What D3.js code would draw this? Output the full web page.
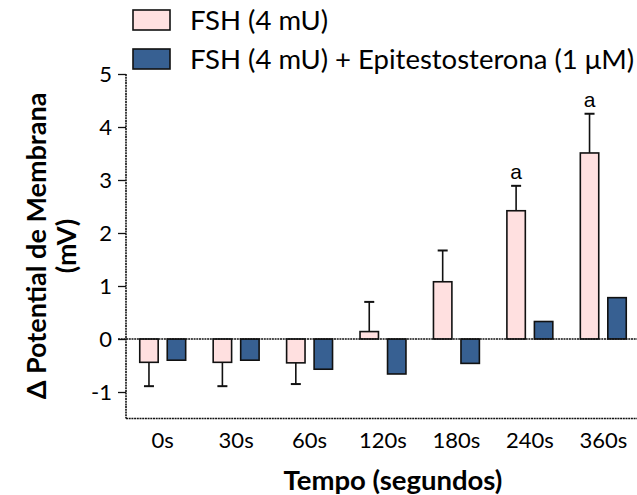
<!DOCTYPE html>
<html>
<head>
<meta charset="utf-8">
<script src="https://cdn.jsdelivr.net/npm/d3@7"></script>
<style>
  body { margin: 0; background: #fff; }
  svg { display: block; }
  text { font-family: Lato, "Open Sans", sans-serif; fill: #000; }
</style>
</head>
<body>
<svg id="chart" width="637" height="495"></svg>
<script>
// data
const categories = ['0s', '30s', '60s', '120s', '180s', '240s', '360s']
const seriesNames = ['FSH (4 mU)', 'FSH (4 mU) + Epitestosterona (1 \u03bcM)']
const fshValues = [-0.44, -0.44, -0.45, 0.14, 1.08, 2.42, 3.51]
const fshErrors = [0.45, 0.45, 0.40, 0.56, 0.59, 0.47, 0.74]
const epiValues = [-0.40, -0.40, -0.57, -0.66, -0.46, 0.33, 0.78]
const significance = ['', '', '', '', '', 'a', 'a']
const yTicks = [-1, 0, 1, 2, 3, 4, 5]

const colors = ['#ffe0e0', '#376092']

const svg = d3.select('#chart')

const x0 = d3.scaleBand()
    .domain(categories)
    .range([126, 640])
    .padding(0)
const x1 = d3.scaleBand()
    .domain([0, 1])
    .range([0, x0.bandwidth()])
    .paddingInner(0.33)
    .paddingOuter(0.5)
const y = d3.scaleLinear()
    .domain([-1.5, 5])
    .range([418.5, 74])

const rows = categories.map((c, i) => ({
    cat: c,
    bars: [
        { s: 0, v: fshValues[i], e: fshErrors[i], sig: significance[i] },
        { s: 1, v: epiValues[i], e: 0, sig: '' }
    ]
}))

// y axis
const yAxis = svg.append('g')
    .attr('transform', 'translate(126,0)')
    .call(d3.axisLeft(y).tickValues(yTicks).tickSize(8).tickPadding(6).tickFormat(d => String(d)))
yAxis.select('.domain').remove()
yAxis.selectAll('line').attr('stroke', '#111').attr('stroke-width', 1.3)
yAxis.selectAll('text').style('font-size', '22px').attr('dy', '0.36em')

svg.append('line')
    .attr('x1', 126).attr('x2', 126)
    .attr('y1', y(5)).attr('y2', 418.5)
    .attr('stroke', '#111').attr('stroke-width', 1.6)
    .attr('stroke-dasharray', '2 0.7')

// bottom line
svg.append('line')
    .attr('x1', 126).attr('x2', 637)
    .attr('y1', 418.5).attr('y2', 418.5)
    .attr('stroke', '#111').attr('stroke-width', 1.6)
    .attr('stroke-dasharray', '2 0.7')

// x labels
svg.append('g')
    .selectAll('text')
    .data(categories)
    .enter().append('text')
    .attr('x', d => x0(d) + x0.bandwidth() / 2)
    .attr('y', 448)
    .attr('text-anchor', 'middle')
    .style('font-size', '22px')
    .text(d => d)

// bars
const g = svg.append('g')
    .selectAll('g')
    .data(rows)
    .enter().append('g')
    .attr('transform', d => 'translate(' + x0(d.cat) + ',0)')

g.selectAll('rect')
    .data(d => d.bars)
    .enter().append('rect')
    .attr('x', d => x1(d.s))
    .attr('width', x1.bandwidth())
    .attr('y', d => Math.min(y(d.v), y(0)))
    .attr('height', d => Math.abs(y(d.v) - y(0)))
    .attr('fill', d => colors[d.s])
    .attr('stroke', '#111')
    .attr('stroke-width', 1.6)

// error bars, one-sided away from zero
const eb = g.selectAll('.err')
    .data(d => d.bars.filter(b => b.e > 0))
    .enter().append('g')
    .attr('class', 'err')
eb.append('line')
    .attr('x1', d => x1(d.s) + x1.bandwidth() / 2)
    .attr('x2', d => x1(d.s) + x1.bandwidth() / 2)
    .attr('y1', d => y(d.v))
    .attr('y2', d => y(d.v + Math.sign(d.v) * d.e))
    .attr('stroke', '#111').attr('stroke-width', 1.6)
eb.append('line')
    .attr('x1', d => x1(d.s) + x1.bandwidth() / 2 - 5)
    .attr('x2', d => x1(d.s) + x1.bandwidth() / 2 + 5)
    .attr('y1', d => y(d.v + Math.sign(d.v) * d.e))
    .attr('y2', d => y(d.v + Math.sign(d.v) * d.e))
    .attr('stroke', '#111').attr('stroke-width', 2)

g.selectAll('.sig')
    .data(d => d.bars.filter(b => b.sig))
    .enter().append('text')
    .attr('class', 'sig')
    .attr('x', d => x1(d.s) + x1.bandwidth() / 2)
    .attr('y', d => y(d.v + d.e) - 7)
    .attr('text-anchor', 'middle')
    .style('font-family', '"Liberation Sans", Arial, sans-serif')
    .style('font-size', '21px')
    .text(d => d.sig)

// zero line
svg.append('line')
    .attr('x1', 118).attr('x2', 637)
    .attr('y1', y(0)).attr('y2', y(0))
    .attr('stroke', '#111').attr('stroke-width', 1.6)
    .attr('stroke-dasharray', '2 0.7')

// axis titles
svg.append('text')
    .attr('x', 393).attr('y', 490)
    .attr('text-anchor', 'middle')
    .style('font-size', '27.5px').style('font-weight', 'bold')
    .text('Tempo (segundos)')

const yt = svg.append('text')
    .attr('transform', 'translate(46,246) rotate(-90)')
    .attr('text-anchor', 'middle')
    .style('font-size', '27px').style('font-weight', 'bold')
yt.append('tspan').attr('x', 0).attr('dy', 0).text('\u0394 Potential de Membrana')
yt.append('tspan').attr('x', 0).attr('dy', 30).text('(mV)')

// legend
const leg = svg.append('g')
    .selectAll('g')
    .data(seriesNames)
    .enter().append('g')
    .attr('transform', (d, i) => 'translate(133,' + (10 + i * 39) + ')')
leg.append('rect')
    .attr('width', 37).attr('height', 20)
    .attr('fill', (d, i) => colors[i])
    .attr('stroke', '#111').attr('stroke-width', 1.6)
leg.append('text')
    .attr('x', 57).attr('y', 10).attr('dy', '0.36em')
    .style('font-size', '27.5px')
    .text(d => d)
</script>
</body>
</html>
